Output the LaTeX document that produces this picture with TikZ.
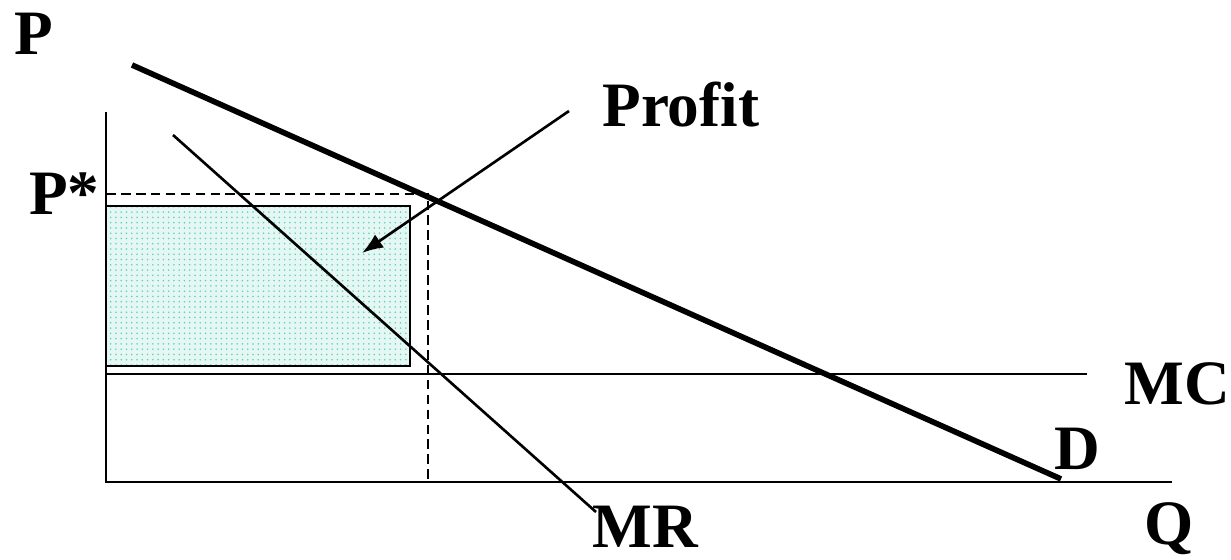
\documentclass[tikz,border=0pt]{standalone}
\usepackage{fontspec}
\setmainfont{Liberation Serif}
\usepackage{xcolor}
\usetikzlibrary{arrows.meta,patterns}
\definecolor{profitfill}{RGB}{228,247,243}
\definecolor{profitdot}{RGB}{95,210,180}

\begin{document}
\begin{tikzpicture}[>=Latex,x=0.02cm,y=-0.02cm,
  lab/.style={font=\fontsize{36}{42}\selectfont\bfseries,inner sep=0pt,anchor=base west},
  axis/.style={line width=1.7pt},
  thin curve/.style={line width=1.5pt},
  demand/.style={line width=3.2pt},
  guide/.style={line width=1.6pt,dash pattern=on 5.5pt off 3pt}]
\useasboundingbox (0,0) rectangle (1231,560);
% points of the diagram
\coordinate (O) at (106,482);
\coordinate (ytop) at (106,112);
\coordinate (xend) at (1172,482);
\coordinate (mcl) at (106,374);
\coordinate (mcr) at (1087,374);
\coordinate (dtop) at (132,65);
\coordinate (dend) at (1061,479);
\coordinate (mrtop) at (173,135);
\coordinate (mrend) at (596,512);
\coordinate (pstar) at (106,194);
\coordinate (eq) at (428,194);
\coordinate (qstar) at (428,482);
\coordinate (arrstart) at (569,111);
\coordinate (arrend) at (362,253);
% profit area
\fill[profitfill] (106,206) rectangle (410,366);
\fill[pattern=dots,pattern color=profitdot] (106,206) rectangle (410,366);
\draw[line width=1.7pt] (106,206) rectangle (410,366);
% axes and curves
\draw[axis] (ytop) -- (O) -- (xend);
\draw[thin curve] (mcl) -- (mcr);
\draw[guide] (pstar) -- (eq) -- (qstar);
\draw[thin curve] (mrtop) -- (mrend);
\draw[demand] (dtop) -- (dend);
\draw[thin curve,-{Latex[length=12pt,width=9pt]}] (arrstart) -- (arrend);
% labels
\node[lab] (lp) at (14,55) {P};
\node[lab] (lpstar) at (29,215) {P*};
\node[lab] (lprofit) at (602,127) {Profit};
\node[lab] (lmc) at (1124,405) {MC};
\node[lab] (ld) at (1054,470) {D};
\node[lab] (lmr) at (592,547) {MR};
\node[lab] (lq) at (1144,544) {Q};
\end{tikzpicture}
\end{document}
